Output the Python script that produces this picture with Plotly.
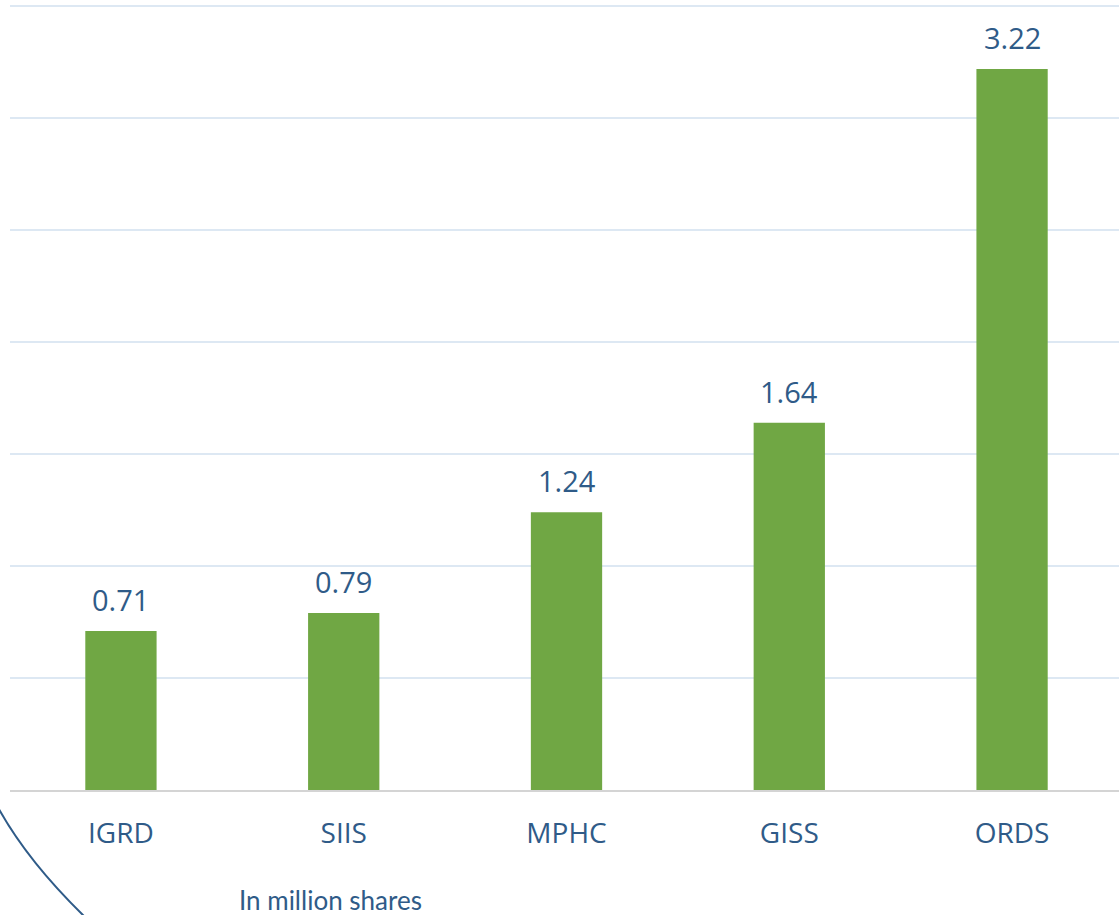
import plotly.graph_objects as go

categories = ["IGRD", "SIIS", "MPHC", "GISS", "ORDS"]
values = [0.71, 0.79, 1.24, 1.64, 3.22]
value_labels = ["0.71", "0.79", "1.24", "1.64", "3.22"]
unit_note = "In million shares"

W, H = 1119, 915
L, R, T, B = 10, 0, 3, 125
pw, ph = W - L - R, H - T - B

def px_to_paper(x, y):
    return (x - L) / pw, (H - B - y) / ph

BLUE = "#2f5b88"
GREEN = "#70a744"

fig = go.Figure()
fig.add_trace(go.Bar(
    x=categories, y=values, width=0.32,
    marker=dict(color=GREEN, line=dict(width=0)),
    hoverinfo="skip",
))

for c, v, t in zip(categories, values, value_labels):
    fig.add_annotation(x=c, y=v, text=t, showarrow=False, yanchor="bottom",
                       yshift=10, font=dict(family="Open Sans", size=29, color=BLUE))

# decorative arc bottom-left
p0 = px_to_paper(-6, 800)
p1 = px_to_paper(24, 858)
p2 = px_to_paper(86, 918)
fig.add_shape(type="path", xref="paper", yref="paper",
              path=f"M {p0[0]},{p0[1]} Q {p1[0]},{p1[1]} {p2[0]},{p2[1]}",
              line=dict(color=BLUE, width=2))

nx, ny = px_to_paper(330, 900)
fig.add_annotation(xref="paper", yref="paper", x=nx, y=ny, text=unit_note,
                   showarrow=False, xanchor="center", yanchor="middle",
                   font=dict(family="Lato", size=26, color=BLUE))

fig.update_layout(
    width=W, height=H,
    margin=dict(l=L, r=R, t=T, b=B),
    plot_bgcolor="white", paper_bgcolor="white",
    showlegend=False,
    xaxis=dict(range=[-0.498, 4.48], showgrid=False, showline=True,
               linecolor="#d4d4d4", linewidth=1.5, zeroline=False,
               ticks="outside", ticklen=18, tickcolor="rgba(0,0,0,0)",
               tickfont=dict(family="Open Sans", size=28, color=BLUE)),
    yaxis=dict(range=[0, 3.515], dtick=0.5, showgrid=True, gridcolor="#dde8f3",
               gridwidth=1.5, showticklabels=False, zeroline=False,
               showline=False),
)

fig.write_html("out.html", config={"displayModeBar": False},
               post_script="document.body.style.margin='0px';document.body.style.overflow='hidden';")
